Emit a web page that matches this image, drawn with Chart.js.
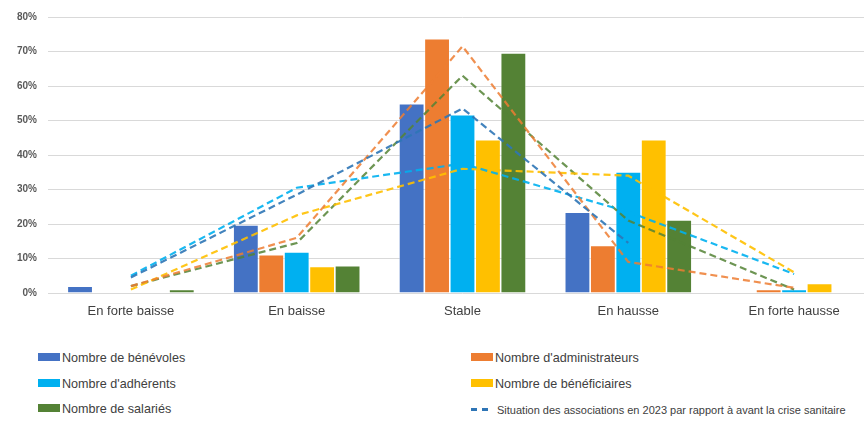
<!DOCTYPE html>
<html>
<head>
<meta charset="utf-8">
<script src="https://cdn.jsdelivr.net/npm/chart.js@4"></script>
<style>
  html, body { margin: 0; padding: 0; background: #fff; overflow: hidden; }
  #wrap { position: relative; width: 864px; height: 421px; overflow: hidden; }
  #chart { position: absolute; left: 0; top: 0; }
  .leg { position: absolute; font-family: "Liberation Sans", Arial, sans-serif; font-size: 12.6px; color: #404040; white-space: nowrap; line-height: 14px; }
  .sw { display: inline-block; width: 22px; height: 8px; vertical-align: 1px; margin-right: 2px; }
  .dash { display: inline-block; width: 20px; height: 3px; vertical-align: 3px; margin-right: 6px;
          background: repeating-linear-gradient(90deg, #2e75b6 0 6px, transparent 6px 11px); }
  .small { font-size: 11px; }
</style>
</head>
<body>
<div id="wrap">
  <canvas id="chart" width="880" height="330"></canvas>
  <div class="leg" style="left:38px; top:351px;"><span class="sw" style="background:#4472c4"></span>Nombre de bénévoles</div>
  <div class="leg" style="left:471px; top:351px;"><span class="sw" style="background:#ed7d31"></span>Nombre d'administrateurs</div>
  <div class="leg" style="left:38px; top:377px;"><span class="sw" style="background:#00b0f0"></span>Nombre d'adhérents</div>
  <div class="leg" style="left:471px; top:377px;"><span class="sw" style="background:#ffc000"></span>Nombre de bénéficiaires</div>
  <div class="leg" style="left:38px; top:402px;"><span class="sw" style="background:#548235"></span>Nombre de salariés</div>
  <div class="leg small" style="left:471px; top:403px;"><span class="dash"></span>Situation des associations en 2023 par rapport à avant la crise sanitaire</div>
</div>
<script>
// categories and values (percent)
const categories = ['En forte baisse', 'En baisse', 'Stable', 'En hausse', 'En forte hausse'];

const benevoles = [2, 19.7, 54.9, 23.4, 0];
const administrateurs = [0, 11.1, 73.7, 13.8, 1];
const adherents = [0, 11.9, 51.7, 35.1, 1];
const beneficiaires = [0, 7.7, 44.4, 44.4, 2.8];
const salaries = [1, 7.9, 69.6, 21.2, 0];

// dashed lines
const trendBenevoles = [4.5, 28.5, 53.5, 14.5, null];
const trendAdministrateurs = [2, 16, 71.5, 9, 1.5];
const trendAdherents = [5, 30.5, 37.5, 23.5, 5.5];
const trendBeneficiaires = [1, 22.5, 36, 34, 6];
const trendSalaries = [2, 14.5, 63, 21, 1];

const yTicks = [0, 10, 20, 30, 40, 50, 60, 70, 80];

function bar(label, data, color) {
    return {
        type: 'bar',
        label: label,
        data: data,
        backgroundColor: color,
        borderColor: 'rgba(255,255,255,0.5)',
        borderWidth: 0.8,
        order: 1
    };
}

function dashed(label, data, color) {
    return {
        type: 'line',
        label: label,
        data: data,
        borderColor: color,
        borderWidth: 2.2,
        borderDash: [7, 4],
        pointRadius: 0,
        fill: false,
        tension: 0,
        order: 0
    };
}

const chart = new Chart(document.getElementById('chart'), {
    data: {
        labels: categories,
        datasets: [
            dashed('Tendance bénévoles', trendBenevoles, 'rgba(46,117,182,0.9)'),
            dashed('Tendance administrateurs', trendAdministrateurs, 'rgba(237,125,49,0.85)'),
            dashed('Tendance adhérents', trendAdherents, 'rgba(0,176,240,0.9)'),
            dashed('Tendance bénéficiaires', trendBeneficiaires, 'rgba(255,192,0,0.9)'),
            dashed('Tendance salariés', trendSalaries, 'rgba(84,130,53,0.85)'),
            bar('Nombre de bénévoles', benevoles, '#4472c4'),
            bar("Nombre d'administrateurs", administrateurs, '#ed7d31'),
            bar("Nombre d'adhérents", adherents, '#00b0f0'),
            bar('Nombre de bénéficiaires', beneficiaires, '#ffc000'),
            bar('Nombre de salariés', salaries, '#548235')
        ]
    },
    options: {
        responsive: false,
        animation: false,
        layout: { padding: { top: 17, right: 3, left: 0, bottom: 0 } },
        datasets: {
            bar: { categoryPercentage: 0.767, barPercentage: 1 }
        },
        plugins: {
            legend: { display: false },
            tooltip: { enabled: false }
        },
        scales: {
            x: {
                grid: { display: false, drawTicks: false },
                border: { display: false },
                ticks: {
                    padding: 11,
                    color: '#404040',
                    font: { family: 'Liberation Sans', size: 13 }
                },
                afterFit: (s) => { s.height = 37; }
            },
            y: {
                min: 0,
                max: 80,
                afterBuildTicks: (s) => { s.ticks = yTicks.map(v => ({ value: v })); },
                grid: { color: '#d9d9d9', lineWidth: 1, drawTicks: false },
                border: { display: false },
                ticks: {
                    padding: 11,
                    color: '#595959',
                    font: { family: 'Liberation Sans', size: 10, weight: 'bold' },
                    callback: (v) => v + '%'
                },
                afterFit: (s) => { s.width = 48; }
            }
        }
    }
});
</script>
</body>
</html>
